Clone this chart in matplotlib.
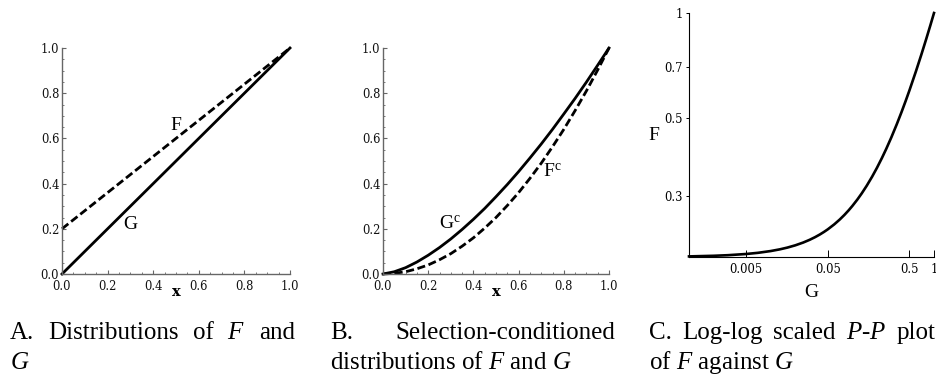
import matplotlib
matplotlib.use('Agg')
import matplotlib.pyplot as plt
from matplotlib.ticker import MultipleLocator, NullLocator

plt.rcParams['mathtext.fontset'] = 'custom'
plt.rcParams['mathtext.rm'] = 'Liberation Serif'
plt.rcParams['mathtext.it'] = 'Liberation Serif:italic'

# panel A: distributions of F and G
x_a = [0.0, 1.0]
F_a = [0.2, 1.0]
G_a = [0.0, 1.0]

# panel B: selection-conditioned distributions
x_b = [0.0, 0.05, 0.1, 0.15, 0.2, 0.25, 0.3, 0.35, 0.4, 0.45, 0.5,
       0.55, 0.6, 0.65, 0.7, 0.75, 0.8, 0.85, 0.9, 0.95, 1.0]
Gc_b = [0.0, 0.010, 0.028, 0.053, 0.083, 0.117, 0.155, 0.197, 0.242, 0.290, 0.342,
        0.396, 0.453, 0.513, 0.575, 0.640, 0.708, 0.777, 0.849, 0.924, 1.0]
Fc_b = [0.0, 0.003, 0.010, 0.023, 0.040, 0.063, 0.090, 0.123, 0.160, 0.203, 0.250,
        0.303, 0.360, 0.423, 0.490, 0.563, 0.640, 0.723, 0.810, 0.903, 1.0]

# panel C: log-log P-P plot
G_c = [0.001, 0.002, 0.003, 0.005, 0.007, 0.01, 0.013, 0.016, 0.02, 0.025, 0.03,
       0.035, 0.04, 0.045, 0.05, 0.06, 0.07, 0.08, 0.09, 0.1, 0.115, 0.13, 0.15,
       0.175, 0.2, 0.23, 0.26, 0.3, 0.35, 0.4, 0.45, 0.5, 0.6, 0.7, 0.8, 0.9, 1.0]
F_c = [0.2008, 0.2016, 0.2024, 0.204, 0.2056, 0.208, 0.2104, 0.2128, 0.216, 0.22, 0.224,
       0.228, 0.232, 0.236, 0.24, 0.248, 0.256, 0.264, 0.272, 0.28, 0.292, 0.304, 0.32,
       0.34, 0.36, 0.384, 0.408, 0.44, 0.48, 0.52, 0.56, 0.6, 0.68, 0.76, 0.84, 0.92, 1.0]

ticks_ab = [0.0, 0.2, 0.4, 0.6, 0.8, 1.0]
tick_labels_ab = ['0.0', '0.2', '0.4', '0.6', '0.8', '1.0']
xticks_c = [0.005, 0.05, 0.5, 1.0]
xtick_labels_c = ['0.005', '0.05', '0.5', '1']
yticks_c = [0.3, 0.5, 0.7, 1.0]
ytick_labels_c = ['0.3', '0.5', '0.7', '1']

captions = [
    (['A.', 'Distributions', 'of', '$F$', 'and'], '$G$'),
    (['B.', 'Selection-conditioned'], 'distributions of $F$ and $G$'),
    (['C.', 'Log-log', 'scaled', '$P$-$P$', 'plot'], 'of $F$ against $G$'),
]

W, H = 937, 376
fig = plt.figure(figsize=(W / 100, H / 100), dpi=100)


def px_box(l, t, r, b):
    return [l / W, 1 - b / H, (r - l) / W, (b - t) / H]


def style_lin(ax):
    for s in ['top', 'right']:
        ax.spines[s].set_visible(False)
    for s in ['left', 'bottom']:
        ax.spines[s].set_color('#666666')
        ax.spines[s].set_linewidth(1.0)
    ax.set_xlim(0, 1)
    ax.set_ylim(0, 1)
    ax.set_xticks(ticks_ab)
    ax.set_xticklabels(tick_labels_ab, family='DejaVu Serif')
    ax.set_yticks(ticks_ab)
    ax.set_yticklabels(tick_labels_ab, family='DejaVu Serif')
    ax.xaxis.set_minor_locator(MultipleLocator(0.05))
    ax.yaxis.set_minor_locator(MultipleLocator(0.05))
    ax.tick_params(which='both', direction='in', color='#666666', labelsize=8.3, labelcolor='#111111')
    ax.tick_params(which='major', length=3, width=0.8)
    ax.tick_params(which='minor', length=1.5, width=0.6)
    ax.tick_params(axis='x', pad=4.5)
    ax.tick_params(axis='y', pad=2)
    ax.set_xlabel('x', family='DejaVu Serif', fontsize=10.5, fontweight='bold')
    ax.xaxis.label.set_va('baseline')
    ax.xaxis.set_label_coords(0.5, -0.097)


dash = (0, (2.9, 1.3))

ax1 = fig.add_axes(px_box(62, 48, 290, 274))
style_lin(ax1)
ax1.plot(x_a, F_a, color='black', lw=2.0, linestyle=dash, clip_on=False)
ax1.plot(x_a, G_a, color='black', lw=2.0, clip_on=False)
ax1.text(0.5, 0.655, 'F', family='Liberation Serif', fontsize=14, ha='center', va='center')
ax1.text(0.298, 0.221, 'G', family='Liberation Serif', fontsize=14, ha='center', va='center')

ax2 = fig.add_axes(px_box(383, 48, 609, 274))
style_lin(ax2)
ax2.plot(x_b, Fc_b, color='black', lw=2.0, linestyle=dash, clip_on=False)
ax2.plot(x_b, Gc_b, color='black', lw=2.0, clip_on=False)
ax2.text(0.296, 0.222, r'G$^{\mathrm{c}}$', family='Liberation Serif', fontsize=14, ha='center', va='center')
ax2.text(0.75, 0.45, r'F$^{\mathrm{c}}$', family='Liberation Serif', fontsize=14, ha='center', va='center')

ax3 = fig.add_axes(px_box(689, 13, 934, 257))
ax3.plot(G_c, F_c, color='black', lw=1.9, clip_on=False, solid_joinstyle='round')
ax3.set_xscale('log')
ax3.set_yscale('log')
ax3.set_xlim(0.001, 1.0)
ax3.set_ylim(0.2, 1.0)
for s in ['top', 'right']:
    ax3.spines[s].set_visible(False)
for s in ['left', 'bottom']:
    ax3.spines[s].set_linewidth(0.8)
ax3.set_xticks(xticks_c)
ax3.set_xticklabels(xtick_labels_c, family='DejaVu Serif')
ax3.set_yticks(yticks_c)
ax3.set_yticklabels(ytick_labels_c, family='DejaVu Serif')
ax3.xaxis.set_minor_locator(NullLocator())
ax3.yaxis.set_minor_locator(NullLocator())
ax3.tick_params(axis='x', direction='in', length=5, width=0.7, labelsize=8.3, pad=4.5)
ax3.tick_params(axis='y', direction='out', length=2.5, width=0.7, labelsize=8.3, pad=2)
ax3.set_xlabel('G', family='Liberation Serif', fontsize=14)
ax3.xaxis.label.set_va('baseline')
ax3.xaxis.set_label_coords(0.5, -0.164)
ax3.set_ylabel('F', family='Liberation Serif', fontsize=14, rotation=0)
ax3.yaxis.label.set_va('center')
ax3.yaxis.label.set_ha('center')
ax3.yaxis.set_label_coords(-0.145, 0.5)

# captions, first line justified like the typeset original
cap_size = 18
renderer = fig.canvas.get_renderer()
cols = [(10, 295), (330, 615), (649, 935)]
for (words, second), (x0, x1) in zip(captions, cols):
    texts = [fig.text(0, 1 - 339 / H, w, fontsize=cap_size, family='Liberation Serif', va='baseline')
             for w in words]
    widths = [t.get_window_extent(renderer).width for t in texts]
    gap = (x1 - x0 - sum(widths)) / (len(words) - 1)
    x = x0
    for t, w in zip(texts, widths):
        t.set_x(x / W)
        x = x + w + gap
    fig.text(x0 / W, 1 - 369 / H, second, fontsize=cap_size, family='Liberation Serif', va='baseline')

fig.savefig('out.png', dpi=100)
